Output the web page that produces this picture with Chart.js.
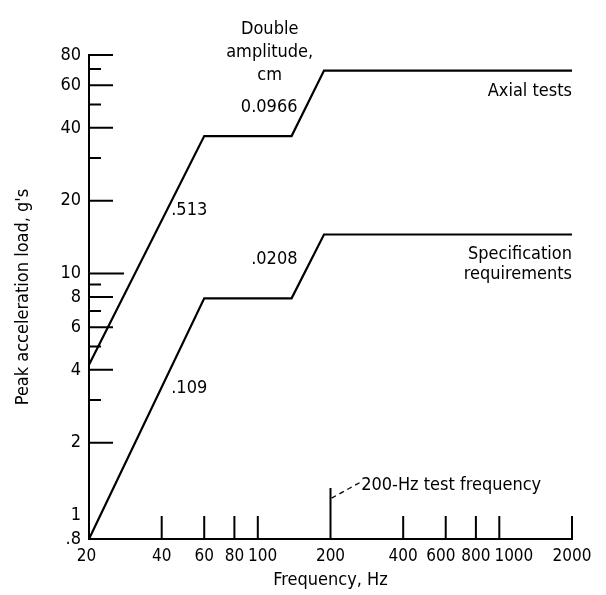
<!DOCTYPE html>
<html>
<head>
<meta charset="utf-8">
<script src="https://cdn.jsdelivr.net/npm/chart.js@4"></script>
<style>
  html, body { margin: 0; padding: 0; background: #fff; }
  #wrap { width: 606px; height: 595px; }
</style>
</head>
<body>
<div id="wrap"><canvas id="c" width="606" height="595"></canvas></div>
<script>
// ---- data ----
const freqAxial = [20, 60, 138, 188, 2000];
const gAxial    = [4.2, 37, 37, 69, 69];
const freqSpec  = [20, 60, 138, 188, 2000];
const gSpec     = [0.8, 7.9, 7.9, 14.5, 14.5];

const xTickValues = [20, 40, 60, 80, 100, 200, 400, 600, 800, 1000, 2000];
// labels padded with spaces so they sit where the original staggers them
const xTickLabels = ['20 ', '40', '60', '80', '  100', '200', '400', '600  ', '800', '      1000', '2000'];
const yTickValues = [0.8, 1, 2, 4, 6, 8, 10, 20, 40, 60, 80];
const yTickLabels = ['.8', '1', '2', '4', '6', '8', '10', '20', '40', '60', '80'];
const yMajorMarks = [2, 4, 6, 8, 20, 40, 60, 80];
const yMinorMarks = [3, 5, 7, 9, 30, 50, 70];
const yLongMarks  = [10];
const xMarks      = [40, 60, 80, 100, 400, 600, 800, 1000, 2000];
const testFrequency = 200;
const testFreqMarkTop = 1.3;

const FONT = '"Liberation Sans Narrow", "DejaVu Sans Condensed", "Roboto Condensed", sans-serif';
const FS = 18;

const toXY = (xs, ys) => xs.map((x, i) => ({ x: x, y: ys[i] }));

const annotPlugin = {
  id: 'annot',
  afterDraw(chart) {
    const ctx = chart.ctx;
    const xs = chart.scales.x, ys = chart.scales.y;
    const X = v => xs.getPixelForValue(v);
    const Y = v => ys.getPixelForValue(v);
    const left = xs.left, bottom = ys.bottom;
    ctx.save();
    ctx.strokeStyle = '#000';
    ctx.lineCap = 'butt';
    // y tick marks (inward)
    ctx.lineWidth = 2;
    ctx.beginPath();
    yMajorMarks.forEach(v => { ctx.moveTo(left, Y(v)); ctx.lineTo(left + 24, Y(v)); });
    yMinorMarks.forEach(v => { ctx.moveTo(left, Y(v)); ctx.lineTo(left + 12, Y(v)); });
    yLongMarks.forEach(v => { ctx.moveTo(left, Y(v)); ctx.lineTo(left + 35, Y(v)); });
    // x tick marks (inward)
    xMarks.forEach(v => { ctx.moveTo(X(v), bottom); ctx.lineTo(X(v), bottom - 23); });
    ctx.moveTo(X(testFrequency), bottom); ctx.lineTo(X(testFrequency), Y(testFreqMarkTop));
    ctx.stroke();

    // dashed leader
    ctx.lineWidth = 1.3;
    ctx.setLineDash([5, 4]);
    ctx.beginPath();
    ctx.moveTo(X(202), Y(1.18));
    ctx.lineTo(X(265), Y(1.37));
    ctx.stroke();
    ctx.setLineDash([]);

    // texts
    ctx.fillStyle = '#000';
    ctx.textBaseline = 'middle';
    ctx.font = FS + 'px ' + FONT;
    ctx.textAlign = 'left';
    ctx.fillText('200-Hz test frequency', X(268), Y(1.33));
    ctx.fillText('.513', X(43.8), Y(18.3));
    ctx.fillText('.109', X(43.8), Y(3.36));
    ctx.textAlign = 'right';
    ctx.fillText('.0208', X(146), Y(11.4));
    ctx.fillText('0.0966', X(146), Y(48.4));
    ctx.textAlign = 'center';
    ctx.fillText('Double', X(112), Y(102));
    ctx.fillText('amplitude,', X(112), Y(82));
    ctx.fillText('cm', X(112), Y(66));
    ctx.textAlign = 'right';
    ctx.fillText('Axial tests', X(2000), Y(56.8));
    ctx.fillText('Specification', X(2000), Y(12.0));
    ctx.fillText('requirements', X(2000), Y(9.9));
    ctx.restore();
  }
};

const lineStyle = {
  borderColor: '#000',
  backgroundColor: '#000',
  borderWidth: 2.2,
  pointRadius: 0,
  tension: 0,
  fill: false,
  clip: false
};

new Chart(document.getElementById('c'), {
  type: 'line',
  data: {
    datasets: [
      Object.assign({ label: 'Axial tests', data: toXY(freqAxial, gAxial) }, lineStyle),
      Object.assign({ label: 'Specification requirements', data: toXY(freqSpec, gSpec) }, lineStyle)
    ]
  },
  options: {
    responsive: false,
    animation: false,
    events: [],
    layout: { padding: { top: 55, right: 34, left: 0, bottom: 0 } },
    plugins: { legend: { display: false }, tooltip: { enabled: false } },
    scales: {
      x: {
        type: 'logarithmic',
        min: 20, max: 2000,
        afterBuildTicks: s => { s.ticks = xTickValues.map(v => ({ value: v })); },
        afterFit: s => { s.height = 56; },
        grid: { display: false, drawTicks: false },
        border: { display: true, color: '#000', width: 2 },
        ticks: {
          autoSkip: false, maxRotation: 0, minRotation: 0, padding: 7, color: '#000',
          font: { family: FONT, size: 17 },
          callback: (v, i) => xTickLabels[i]
        },
        title: {
          display: true, text: 'Frequency, Hz', color: '#000',
          font: { family: FONT, size: FS },
          padding: { top: 0, bottom: 4 }
        }
      },
      y: {
        type: 'logarithmic',
        min: 0.8, max: 80,
        afterBuildTicks: s => { s.ticks = yTickValues.map(v => ({ value: v })); },
        afterFit: s => { s.width = 89; },
        grid: { display: false, drawTicks: false },
        border: { display: true, color: '#000', width: 2 },
        ticks: {
          autoSkip: false, padding: 8, color: '#000',
          font: { family: FONT, size: FS },
          callback: (v, i) => yTickLabels[i]
        },
        title: {
          display: true, text: "Peak acceleration load, g's", color: '#000',
          font: { family: FONT, size: FS },
          padding: { top: 13, bottom: 0 }
        }
      }
    }
  },
  plugins: [annotPlugin]
});
</script>
</body>
</html>
